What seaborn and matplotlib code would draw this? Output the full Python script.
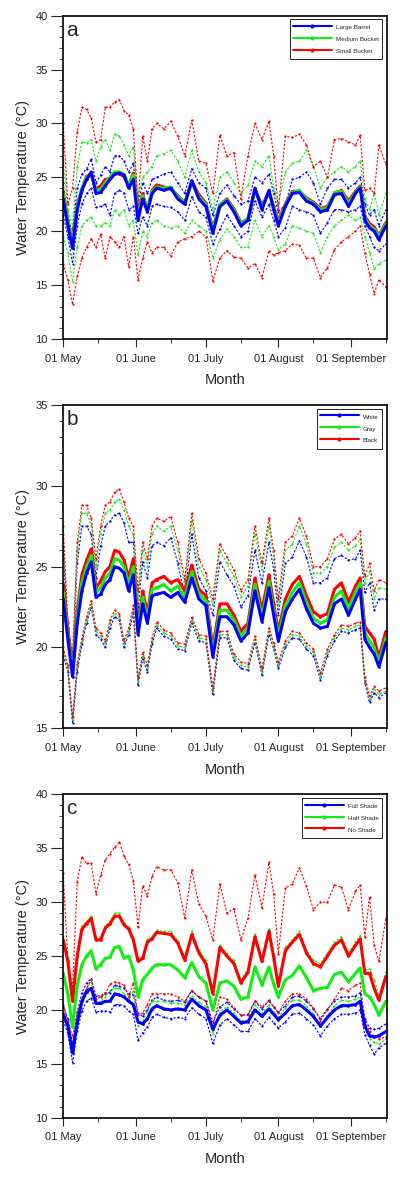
import pandas as pd
import matplotlib
matplotlib.use("Agg")
import matplotlib.pyplot as plt
import matplotlib.dates as mdates
from matplotlib.lines import Line2D
from matplotlib.ticker import MultipleLocator
import seaborn as sns

days = [0, 2, 4, 6, 8, 10, 12, 14, 16, 18,
        20, 22, 24, 26, 28, 30, 32, 34, 36, 38,
        40, 43, 46, 49, 52, 55, 58, 61, 64, 67,
        70, 73, 76, 79, 82, 85, 88, 90, 92, 95,
        98, 101, 104, 107, 110, 113, 116, 119, 122, 125,
        127, 129, 131, 133, 135, 138]

# ---- panel a: container size ----
a_large_mean = [23.0, 20.5, 18.4, 22.0, 23.8, 24.8, 25.5, 23.5, 23.6, 24.2,
                24.8, 25.3, 25.4, 25.2, 24.0, 24.8, 21.0, 23.0, 21.8, 23.5,
                24.0, 23.8, 24.0, 23.0, 22.5, 24.7, 23.0, 22.3, 19.8, 22.3,
                22.8, 21.8, 20.5, 21.0, 24.0, 22.0, 23.8, 22.0, 20.5, 22.3,
                23.5, 23.6, 22.8, 22.5, 21.8, 22.0, 23.4, 23.5, 22.3, 23.5,
                24.0, 21.0, 20.3, 20.0, 19.2, 20.5]
a_large_max = [24.5, 21.0, 20.1, 24.0, 25.3, 25.8, 26.7, 24.5, 25.2, 26.0,
               25.5, 27.0, 27.0, 26.5, 25.5, 26.3, 22.5, 24.5, 23.5, 24.8,
               25.0, 25.3, 25.5, 24.5, 23.5, 25.8, 24.5, 24.0, 21.5, 23.5,
               24.3, 23.3, 22.5, 22.8, 25.0, 24.5, 25.3, 23.5, 21.8, 22.5,
               24.8, 25.0, 25.5, 24.5, 22.5, 24.0, 24.8, 24.8, 24.0, 24.5,
               25.0, 22.5, 21.5, 22.0, 20.5, 22.0]
a_large_min = [21.5, 19.5, 17.0, 20.5, 22.5, 23.5, 24.0, 22.2, 22.3, 22.5,
               21.5, 23.5, 23.8, 23.5, 22.0, 22.3, 19.8, 21.3, 20.5, 22.3,
               22.5, 22.3, 22.2, 21.8, 21.0, 23.2, 21.8, 21.3, 18.8, 20.2,
               21.5, 20.5, 19.5, 20.0, 22.8, 21.3, 22.5, 21.0, 19.5, 20.3,
               22.3, 22.0, 21.8, 21.5, 19.8, 20.8, 22.0, 22.0, 21.8, 22.0,
               22.3, 20.5, 19.5, 18.5, 18.2, 18.8]
a_medium_mean = [23.4, 20.8, 18.6, 22.3, 24.0, 25.0, 25.3, 23.8, 23.9, 24.5,
                 25.0, 25.5, 25.5, 25.3, 24.3, 25.2, 21.3, 23.3, 22.0, 23.7,
                 24.1, 24.0, 24.1, 23.2, 22.7, 24.5, 23.2, 22.5, 20.1, 22.5,
                 22.9, 22.0, 20.7, 21.2, 23.8, 22.2, 23.7, 22.2, 20.8, 22.4,
                 23.6, 23.8, 23.0, 22.6, 22.0, 22.2, 23.6, 23.7, 22.6, 23.6,
                 24.1, 21.2, 20.5, 20.2, 19.5, 20.7]
a_medium_max = [26.5, 22.0, 20.5, 26.0, 28.3, 28.2, 28.5, 26.5, 27.8, 28.5,
                27.5, 29.0, 28.8, 28.0, 27.0, 27.8, 23.0, 25.0, 25.5, 26.0,
                27.0, 27.2, 27.5, 26.5, 25.0, 27.5, 25.5, 24.5, 22.0, 25.0,
                25.5, 24.5, 23.5, 24.3, 26.5, 26.0, 27.0, 24.0, 22.5, 25.5,
                26.3, 26.5, 27.5, 26.0, 24.0, 25.0, 25.5, 26.0, 25.5, 26.0,
                26.5, 23.0, 22.0, 23.5, 21.5, 23.5]
a_medium_min = [19.5, 18.0, 15.3, 18.5, 20.5, 21.0, 21.3, 20.5, 20.5, 20.8,
                20.5, 22.0, 21.5, 22.0, 20.5, 21.0, 17.8, 20.0, 19.5, 20.8,
                21.0, 20.5, 20.3, 20.5, 19.8, 21.0, 20.5, 20.0, 17.5, 19.2,
                20.2, 19.5, 18.5, 18.5, 21.0, 19.5, 20.5, 19.5, 18.3, 18.8,
                20.5, 20.3, 20.0, 19.8, 18.0, 19.5, 20.5, 21.0, 21.5, 21.0,
                21.3, 19.5, 18.0, 16.5, 17.0, 17.3]
a_small_mean = [23.6, 21.0, 18.8, 22.5, 23.9, 25.1, 25.2, 23.9, 24.2, 24.8,
                24.9, 25.4, 25.3, 25.1, 24.2, 25.4, 21.5, 23.5, 21.9, 23.8,
                24.3, 24.1, 23.9, 23.3, 22.6, 24.6, 23.4, 22.6, 20.3, 22.4,
                23.0, 22.1, 20.8, 21.1, 23.9, 22.4, 23.6, 22.3, 21.0, 22.5,
                23.7, 23.7, 23.1, 22.7, 22.1, 22.3, 23.5, 23.8, 22.8, 23.7,
                24.2, 21.4, 20.7, 20.4, 19.6, 20.8]
a_small_max = [30.0, 22.5, 24.0, 29.2, 31.5, 31.3, 30.5, 28.3, 28.5, 31.5,
               31.5, 32.0, 32.2, 31.2, 30.8, 29.5, 22.5, 28.8, 26.5, 29.5,
               30.0, 29.5, 30.2, 28.8, 27.0, 30.3, 26.5, 26.3, 23.5, 28.9,
               27.0, 27.3, 23.0, 27.0, 30.0, 28.5, 30.2, 27.0, 22.0, 28.8,
               28.7, 29.0, 28.0, 26.0, 26.5, 25.0, 28.5, 28.6, 28.3, 28.0,
               28.9, 23.8, 24.0, 23.5, 28.0, 26.2]
a_small_min = [17.0, 15.5, 13.2, 15.8, 17.5, 18.5, 19.3, 18.5, 19.7, 17.5,
               19.5, 19.0, 18.5, 19.5, 16.7, 19.5, 15.5, 17.5, 19.0, 18.0,
               18.5, 18.5, 17.7, 19.0, 19.3, 19.5, 20.0, 19.5, 15.4, 17.5,
               18.2, 17.6, 17.5, 16.6, 17.0, 15.7, 18.2, 17.8, 18.0, 18.2,
               18.8, 18.7, 17.5, 17.5, 15.7, 16.6, 18.3, 19.0, 19.5, 20.0,
               20.5, 18.0, 16.0, 14.2, 15.5, 14.8]

# ---- panel b: container colour ----
b_white_mean = [23.0, 20.5, 18.2, 21.5, 23.5, 24.6, 25.3, 23.1, 23.3, 23.9,
                24.2, 25.0, 24.9, 24.6, 23.5, 24.5, 20.8, 22.7, 21.5, 23.2,
                23.3, 23.4, 23.1, 23.4, 22.8, 24.3, 23.0, 22.6, 19.4, 21.9,
                21.9, 21.4, 20.4, 20.9, 23.5, 21.6, 23.7, 22.0, 20.4, 22.2,
                23.0, 23.6, 22.4, 21.5, 21.2, 21.3, 22.7, 23.0, 22.0, 23.0,
                23.6, 20.5, 20.0, 19.6, 18.8, 20.3]
b_white_max = [26.2, 20.5, 18.8, 25.2, 27.5, 27.5, 27.0, 24.3, 26.3, 27.5,
               27.8, 28.2, 28.3, 27.7, 26.5, 26.5, 22.5, 25.3, 24.3, 26.3,
               26.5, 26.3, 26.8, 25.2, 23.2, 27.0, 24.3, 23.5, 22.0, 25.3,
               24.5, 23.8, 22.5, 23.2, 26.0, 24.0, 26.5, 24.8, 22.0, 25.2,
               25.6, 26.6, 25.6, 24.0, 24.0, 24.3, 25.5, 25.7, 25.4, 25.5,
               26.0, 23.4, 24.0, 22.3, 23.0, 23.0]
b_white_min = [19.5, 18.5, 15.3, 18.5, 20.2, 21.5, 22.5, 20.8, 20.5, 20.0,
               21.2, 21.9, 21.7, 20.0, 20.8, 22.2, 17.7, 19.3, 18.5, 20.2,
               21.2, 20.7, 20.5, 19.9, 19.8, 21.5, 20.4, 20.3, 17.1, 20.6,
               20.6, 19.2, 18.7, 18.6, 20.3, 18.3, 20.8, 19.9, 18.7, 20.0,
               20.6, 20.5, 19.9, 19.5, 18.0, 19.5, 20.4, 21.0, 20.9, 21.1,
               21.2, 17.8, 16.6, 17.2, 16.9, 17.2]
b_gray_mean = [23.4, 20.8, 18.4, 21.9, 24.0, 25.0, 25.7, 23.4, 23.7, 24.3,
               24.6, 25.5, 25.4, 25.0, 23.9, 25.0, 21.0, 23.1, 21.8, 23.6,
               23.7, 23.9, 23.5, 23.8, 23.1, 24.7, 23.3, 22.9, 19.7, 22.3,
               22.3, 21.7, 20.7, 21.2, 23.9, 21.9, 24.1, 22.3, 20.7, 22.6,
               23.4, 24.0, 22.8, 21.8, 21.5, 21.7, 23.1, 23.5, 22.4, 23.4,
               24.0, 20.9, 20.4, 20.0, 19.1, 20.6]
b_gray_max = [27.0, 21.0, 19.2, 26.0, 28.3, 28.3, 27.6, 25.0, 27.0, 28.3,
              28.5, 29.0, 29.2, 28.5, 27.5, 27.0, 23.0, 26.0, 25.0, 27.0,
              27.5, 27.2, 27.5, 26.0, 23.8, 27.8, 25.0, 24.2, 22.6, 26.0,
              25.2, 24.4, 23.1, 23.8, 27.0, 24.8, 27.5, 25.5, 22.6, 26.0,
              26.4, 27.5, 26.4, 24.6, 24.6, 25.0, 26.2, 26.5, 26.0, 26.3,
              26.7, 24.0, 24.7, 23.0, 23.7, 23.6]
b_gray_min = [19.8, 18.7, 15.5, 18.8, 20.4, 21.7, 22.7, 21.0, 20.7, 20.2,
              21.5, 22.1, 21.9, 20.2, 21.0, 22.4, 17.9, 19.5, 18.7, 20.4,
              21.4, 20.9, 20.7, 20.1, 20.0, 21.7, 20.6, 20.5, 17.3, 20.8,
              20.8, 19.4, 18.9, 18.8, 20.5, 18.5, 21.0, 20.1, 18.9, 20.2,
              20.8, 20.7, 20.1, 19.7, 18.2, 19.7, 20.6, 21.2, 21.1, 21.3,
              21.4, 18.0, 16.8, 17.4, 17.1, 17.3]
b_black_mean = [23.9, 21.2, 18.6, 22.3, 24.5, 25.4, 26.1, 23.7, 24.1, 24.7,
                25.0, 26.0, 25.9, 25.4, 24.3, 25.5, 21.3, 23.5, 22.1, 24.0,
                24.2, 24.4, 24.0, 24.2, 23.5, 25.1, 23.6, 23.2, 20.0, 22.7,
                22.7, 22.0, 21.0, 21.5, 24.3, 22.3, 24.5, 22.7, 21.0, 23.0,
                23.9, 24.4, 23.2, 22.2, 21.9, 22.1, 23.6, 24.0, 22.8, 23.8,
                24.3, 21.3, 20.9, 20.5, 19.4, 21.0]
b_black_max = [27.5, 21.5, 19.5, 26.5, 28.8, 28.8, 28.0, 25.5, 27.5, 28.8,
               29.0, 29.6, 29.8, 29.0, 28.0, 27.5, 23.5, 26.5, 25.5, 27.5,
               28.0, 27.8, 28.1, 26.5, 24.2, 28.3, 25.5, 24.6, 23.0, 26.4,
               25.6, 24.8, 23.5, 24.2, 27.5, 25.2, 28.0, 26.0, 23.0, 26.5,
               26.9, 28.0, 26.9, 25.0, 25.0, 25.5, 26.7, 27.0, 26.4, 26.8,
               27.2, 24.4, 25.2, 23.5, 24.2, 24.0]
b_black_min = [20.0, 18.9, 15.7, 19.0, 20.6, 21.9, 22.9, 21.2, 20.9, 20.4,
               21.7, 22.3, 22.1, 20.4, 21.2, 22.6, 18.1, 19.7, 18.9, 20.6,
               21.6, 21.1, 20.9, 20.3, 20.2, 21.9, 20.8, 20.7, 17.5, 21.0,
               21.0, 19.6, 19.1, 19.0, 20.7, 18.7, 21.2, 20.3, 19.1, 20.4,
               21.0, 20.9, 20.3, 19.9, 18.4, 19.9, 20.8, 21.4, 21.3, 21.5,
               21.6, 18.2, 17.0, 17.6, 17.3, 17.5]

# ---- panel c: shading ----
c_full_mean = [19.6, 18.5, 16.0, 18.8, 20.8, 21.7, 22.0, 20.6, 20.6, 20.8,
               20.8, 21.5, 21.4, 21.2, 20.8, 20.5, 18.9, 18.7, 19.2, 20.1,
               20.4, 20.1, 20.0, 20.1, 20.0, 21.0, 20.4, 20.0, 18.2, 19.5,
               20.0, 19.4, 18.8, 18.9, 20.0, 19.4, 20.1, 19.6, 19.1, 19.7,
               20.4, 20.5, 20.0, 19.4, 18.5, 19.3, 20.0, 20.4, 20.4, 20.5,
               20.8, 18.5, 17.6, 17.5, 17.6, 18.0]
c_full_max = [20.3, 19.2, 16.8, 19.8, 21.6, 22.5, 22.9, 21.3, 21.3, 21.6,
              21.6, 22.3, 22.2, 22.0, 21.5, 21.4, 19.7, 19.4, 20.0, 20.9,
              21.2, 20.9, 20.8, 20.9, 20.7, 21.8, 21.2, 20.8, 18.9, 20.3,
              20.7, 20.1, 19.5, 19.6, 20.8, 20.1, 20.9, 20.3, 19.8, 20.4,
              21.2, 21.3, 20.8, 20.1, 19.2, 20.1, 20.8, 21.2, 21.2, 21.3,
              21.6, 19.2, 18.3, 18.2, 18.3, 18.7]
c_full_min = [19.0, 17.8, 15.1, 18.0, 19.9, 20.8, 21.1, 19.8, 19.9, 19.9,
              19.8, 20.5, 20.5, 20.4, 19.9, 19.6, 17.2, 17.9, 18.4, 19.3,
              19.6, 19.3, 19.2, 19.3, 19.2, 20.2, 19.6, 19.2, 16.9, 18.6,
              19.2, 18.6, 18.0, 18.0, 19.2, 18.5, 19.3, 18.8, 18.3, 18.9,
              19.6, 19.7, 19.2, 18.6, 17.6, 18.5, 19.2, 19.6, 19.6, 19.7,
              20.0, 17.7, 16.7, 15.9, 16.5, 16.9]
c_half_mean = [23.4, 21.5, 18.4, 22.3, 24.2, 25.0, 25.5, 23.8, 24.2, 24.8,
               24.9, 25.8, 25.9, 24.8, 25.0, 23.7, 21.2, 22.8, 23.3, 23.9,
               24.2, 24.2, 24.2, 23.7, 23.0, 24.4, 23.1, 22.5, 20.0, 22.5,
               22.7, 22.2, 21.0, 21.2, 24.0, 22.3, 24.0, 22.4, 21.2, 22.8,
               23.2, 24.1, 23.0, 21.8, 22.0, 22.1, 23.3, 23.5, 22.6, 23.4,
               23.9, 21.5, 21.2, 20.5, 19.5, 20.8]
c_half_max = [26.8, 24.8, 21.0, 25.3, 27.8, 28.2, 28.7, 26.8, 26.7, 27.8,
              28.2, 29.0, 29.0, 28.1, 27.7, 26.8, 24.8, 25.0, 26.6, 26.8,
              27.4, 27.3, 27.3, 26.4, 24.9, 27.3, 25.6, 24.6, 21.8, 26.0,
              25.3, 24.6, 22.8, 23.8, 27.0, 24.8, 27.5, 25.2, 22.5, 25.8,
              26.5, 27.3, 25.6, 24.6, 24.3, 25.3, 26.3, 26.8, 25.3, 26.3,
              26.9, 23.7, 23.8, 22.8, 21.3, 23.5]
c_half_min = [19.8, 18.5, 16.5, 19.5, 21.0, 22.0, 22.6, 20.8, 20.8, 21.2,
              21.8, 22.0, 22.0, 21.5, 21.0, 21.8, 18.5, 19.0, 19.8, 20.8,
              20.8, 20.8, 20.6, 20.6, 20.5, 21.3, 20.7, 20.3, 17.8, 19.8,
              20.3, 19.7, 19.0, 19.0, 20.5, 19.7, 20.5, 19.8, 19.3, 20.2,
              20.9, 20.9, 20.4, 19.6, 18.5, 19.5, 20.4, 20.9, 20.8, 21.0,
              21.2, 18.5, 17.3, 17.0, 16.8, 17.3]
c_no_mean = [26.5, 24.5, 20.8, 25.0, 27.5, 28.0, 28.5, 26.5, 26.5, 27.6,
             28.0, 28.7, 28.7, 27.9, 27.5, 26.5, 24.5, 24.8, 26.3, 26.6,
             27.2, 27.1, 27.0, 26.2, 24.6, 27.0, 25.3, 24.3, 21.5, 25.8,
             25.0, 24.3, 22.5, 23.5, 26.8, 24.5, 27.3, 24.9, 22.2, 25.5,
             26.3, 27.0, 25.3, 24.3, 24.0, 25.0, 26.0, 26.5, 25.0, 26.0,
             26.6, 23.4, 23.4, 22.0, 20.9, 23.1]
c_no_max = [32.7, 24.5, 22.0, 31.9, 34.2, 33.6, 33.6, 30.8, 32.5, 33.9,
            34.5, 35.1, 35.6, 34.3, 33.5, 32.0, 27.7, 31.5, 30.6, 32.4,
            33.3, 33.0, 33.0, 31.8, 28.5, 33.0, 29.8, 28.7, 26.5, 31.7,
            29.0, 29.4, 26.5, 28.5, 32.5, 29.5, 33.7, 30.8, 25.2, 31.3,
            31.7, 33.2, 31.5, 29.3, 30.0, 30.0, 31.6, 31.4, 29.3, 31.0,
            31.6, 26.8, 30.5, 26.0, 24.5, 28.5]
c_no_min = [20.5, 19.0, 17.5, 19.8, 21.0, 22.0, 22.8, 21.0, 21.2, 21.5,
            22.4, 22.6, 22.5, 22.3, 21.2, 22.5, 19.5, 19.7, 20.5, 21.5,
            21.5, 21.5, 21.5, 21.2, 20.8, 21.8, 21.2, 20.8, 18.5, 21.2,
            21.0, 20.2, 19.5, 19.5, 20.8, 20.3, 20.8, 20.3, 19.7, 20.8,
            21.5, 21.5, 21.0, 20.2, 19.0, 20.0, 21.0, 22.0, 21.8, 22.3,
            22.5, 19.0, 18.0, 17.5, 17.3, 17.5]

BLUE, GREEN, RED = "#0000ff", "#11ee11", "#ff0000"

panels = [
    ("a", (10, 40), ["Large Barrel", "Medium Bucket", "Small Bucket"],
     [(a_large_mean, a_large_max, a_large_min),
      (a_medium_mean, a_medium_max, a_medium_min),
      (a_small_mean, a_small_max, a_small_min)]),
    ("b", (15, 35), ["White", "Gray", "Black"],
     [(b_white_mean, b_white_max, b_white_min),
      (b_gray_mean, b_gray_max, b_gray_min),
      (b_black_mean, b_black_max, b_black_min)]),
    ("c", (10, 40), ["Full Shade", "Half Shade", "No Shade"],
     [(c_full_mean, c_full_max, c_full_min),
      (c_half_mean, c_half_max, c_half_min),
      (c_no_mean, c_no_max, c_no_min)]),
]

sns.set_style("ticks")
plt.rcParams["font.family"] = ["Liberation Sans", "DejaVu Sans"]

start = pd.Timestamp("2014-05-01")
dates = start + pd.to_timedelta(days, unit="D")

fig = plt.figure(figsize=(4, 11.79), dpi=100)
bottoms = [0.7125, 0.3823, 0.052]
colors = [BLUE, GREEN, RED]

for (letter, ylim, labels, groups), bottom in zip(panels, bottoms):
    ax = fig.add_axes([0.158, bottom, 0.8085, 0.2742])

    # daily max / min, dotted
    for (mean, hi, lo), col in zip(groups, colors):
        for vals in (hi, lo):
            sns.lineplot(x=dates, y=vals, ax=ax, color=col, lw=0.8,
                         linestyle=(0, (2, 1.5)), marker="o", markersize=1.6,
                         markeredgewidth=0)
    # daily mean, thick (blue ends on top)
    for (mean, hi, lo), col in reversed(list(zip(groups, colors))):
        sns.lineplot(x=dates, y=mean, ax=ax, color=col, lw=2.2,
                     marker="o", markersize=2, markeredgewidth=0)

    ax.set_ylim(*ylim)
    ax.set_xlim(start, start + pd.Timedelta(days=138.3))
    ax.yaxis.set_major_locator(MultipleLocator(5))
    ax.yaxis.set_minor_locator(MultipleLocator(1))
    ax.xaxis.set_major_locator(mdates.MonthLocator())
    ax.xaxis.set_minor_locator(mdates.DayLocator(bymonthday=16))
    ax.xaxis.set_major_formatter(mdates.DateFormatter("%d %B"))
    ax.tick_params(axis="y", which="major", length=8.5, width=0.8,
                   labelsize=8, pad=2.5)
    ax.tick_params(axis="y", which="minor", length=3, width=0.6)
    ax.tick_params(axis="x", which="major", length=6, width=0.8,
                   labelsize=8, pad=4.5)
    ax.tick_params(axis="x", which="minor", length=3, width=0.6)
    for s in ax.spines.values():
        s.set_visible(True)
        s.set_linewidth(1.2)
        s.set_color("black")

    ax.set_xlabel("Month", fontsize=10.5, labelpad=7)
    ax.set_ylabel("Water Temperature (°C)", fontsize=10.5, labelpad=4)
    ax.text(0.01, 0.985, letter, transform=ax.transAxes, fontsize=15,
            ha="left", va="top")

    handles = [Line2D([], [], color=c, lw=1.5, marker="o", markersize=2)
               for c in colors]
    leg = ax.legend(handles, labels, loc="upper right",
                    bbox_to_anchor=(0.986, 0.989), borderaxespad=0,
                    fontsize=4.5, handlelength=6.2, handleheight=2.0,
                    handletextpad=0.65, labelspacing=0.35, borderpad=0.55,
                    fancybox=False, framealpha=1, edgecolor="black")
    leg.get_frame().set_linewidth(0.6)

fig.savefig("out.png", dpi=100)
